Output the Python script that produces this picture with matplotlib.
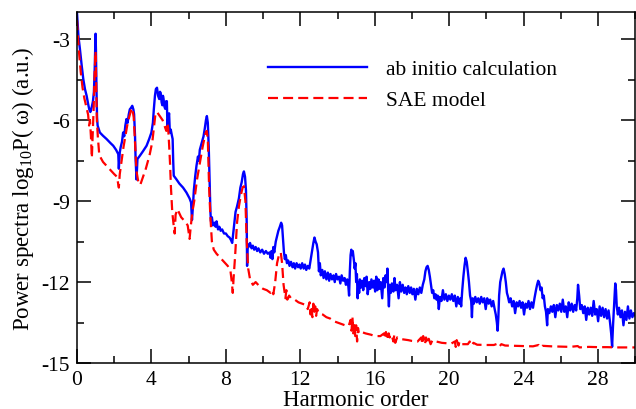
import matplotlib
matplotlib.use("Agg")
import matplotlib.pyplot as plt
from matplotlib.ticker import MultipleLocator

# ab initio spectrum, (harmonic order, log10 P)
ab_initio = [
    (0.0, -2.0), (0.08, -2.9), (0.16, -3.37), (0.25, -3.95), (0.34, -4.48), (0.43, -4.85),
    (0.52, -5.1), (0.6, -5.4), (0.66, -5.6), (0.72, -5.7), (0.8, -5.5), (0.86, -5.3),
    (0.91, -4.96), (0.95, -4.2), (0.98, -3.3), (1.0, -2.8), (1.02, -3.4), (1.05, -4.9),
    (1.08, -5.9), (1.11, -6.2), (1.23, -6.46), (1.4, -6.58), (1.59, -6.7), (1.8, -6.85),
    (1.95, -6.95), (2.1, -7.1), (2.22, -7.26), (2.25, -7.8), (2.3, -7.2), (2.35, -7.0),
    (2.42, -6.8), (2.48, -6.46), (2.54, -6.6), (2.6, -6.2), (2.66, -5.96), (2.72, -6.1),
    (2.78, -5.8), (2.84, -5.6), (2.9, -5.55), (2.97, -5.47), (3.03, -5.6), (3.07, -5.78),
    (3.12, -6.6), (3.15, -7.44), (3.2, -8.2), (3.25, -7.44), (3.38, -7.32), (3.55, -7.15),
    (3.74, -6.95), (3.88, -6.7), (4.0, -6.46), (4.08, -6.1), (4.13, -5.6), (4.19, -5.1),
    (4.24, -4.85), (4.3, -4.8), (4.36, -5.1), (4.42, -5.22), (4.46, -4.95), (4.5, -5.0),
    (4.55, -5.35), (4.59, -5.45), (4.62, -5.1), (4.65, -5.2), (4.7, -5.5), (4.74, -5.58),
    (4.79, -5.3), (4.83, -5.3), (4.86, -6.2), (4.9, -5.95), (4.95, -5.75), (4.99, -6.46),
    (5.04, -6.35), (5.08, -6.5), (5.14, -6.7), (5.17, -7.5), (5.2, -8.06), (5.34, -8.19),
    (5.5, -8.35), (5.7, -8.5), (5.88, -8.68), (6.05, -8.9), (6.13, -9.05), (6.18, -9.7),
    (6.22, -9.3), (6.28, -8.6), (6.35, -8.1), (6.42, -7.7), (6.5, -7.35), (6.55, -7.5),
    (6.6, -7.1), (6.7, -6.85), (6.8, -6.6), (6.87, -6.3), (6.93, -6.0), (6.98, -5.85),
    (7.03, -6.1), (7.08, -7.0), (7.13, -8.3), (7.17, -9.4), (7.2, -9.75), (7.25, -9.6),
    (7.3, -9.9), (7.38, -9.8), (7.45, -9.95), (7.5, -9.75), (7.58, -10.05), (7.65, -9.95),
    (7.72, -10.1), (7.8, -10.05), (7.9, -10.2), (8.0, -10.2), (8.1, -10.3), (8.2, -10.35),
    (8.28, -10.45), (8.34, -10.55), (8.38, -10.3), (8.45, -9.9), (8.52, -9.4), (8.6, -9.2),
    (8.7, -8.9), (8.78, -8.5), (8.85, -8.3), (8.92, -8.0), (8.97, -7.9), (9.03, -8.1),
    (9.08, -8.6), (9.12, -9.8), (9.14, -11.4), (9.17, -10.6), (9.22, -10.7), (9.3, -10.55),
    (9.38, -10.75), (9.45, -10.65), (9.52, -10.8), (9.6, -10.7), (9.68, -10.85), (9.75, -10.75),
    (9.85, -10.9), (9.95, -10.8), (10.05, -10.95), (10.15, -10.85), (10.25, -10.95), (10.35, -10.9),
    (10.4, -11.1), (10.45, -10.85), (10.5, -11.15), (10.55, -10.7), (10.6, -10.9), (10.68, -10.5),
    (10.75, -10.3), (10.82, -10.1), (10.9, -9.95), (10.97, -9.8), (11.02, -9.9), (11.07, -10.4),
    (11.12, -10.9), (11.17, -11.15), (11.22, -11.0), (11.28, -11.3), (11.35, -11.2), (11.42, -11.4),
    (11.5, -11.25), (11.58, -11.45), (11.65, -11.3), (11.72, -11.5), (11.8, -11.3), (11.88, -11.45),
    (11.95, -11.35), (12.02, -11.5), (12.1, -11.3), (12.18, -11.5), (12.25, -11.35), (12.32, -11.55),
    (12.4, -11.4), (12.48, -11.5), (12.55, -11.2), (12.62, -10.9), (12.7, -10.55), (12.76, -10.35),
    (12.82, -10.5), (12.88, -10.6), (12.95, -10.9), (13.0, -11.6), (13.05, -11.3), (13.1, -11.75),
    (13.18, -11.55), (13.25, -11.85), (13.32, -11.6), (13.4, -11.9), (13.48, -11.65), (13.55, -11.95),
    (13.62, -11.7), (13.7, -11.9), (13.78, -11.75), (13.85, -12.0), (13.92, -11.7), (14.0, -11.9),
    (14.08, -11.8), (14.15, -12.05), (14.22, -11.75), (14.3, -11.95), (14.38, -11.85), (14.45, -12.1),
    (14.52, -11.9), (14.58, -12.15), (14.62, -12.5), (14.66, -11.6), (14.7, -11.0), (14.74, -10.8),
    (14.78, -11.0), (14.82, -10.85), (14.88, -11.2), (14.92, -11.5), (14.96, -11.3), (15.0, -12.0),
    (15.04, -11.7), (15.08, -12.6), (15.12, -12.0), (15.16, -12.4), (15.2, -11.9), (15.26, -12.2),
    (15.32, -11.95), (15.38, -12.3), (15.44, -11.85), (15.5, -12.15), (15.56, -11.8), (15.62, -12.45),
    (15.7, -12.0), (15.76, -12.25), (15.82, -11.9), (15.9, -12.2), (15.96, -11.95), (16.02, -12.35),
    (16.08, -11.8), (16.14, -12.3), (16.2, -11.9), (16.26, -12.25), (16.32, -12.0), (16.4, -12.6),
    (16.46, -11.85), (16.52, -12.2), (16.58, -11.75), (16.64, -12.0), (16.68, -11.5), (16.72, -12.3),
    (16.76, -12.9), (16.8, -12.1), (16.86, -12.4), (16.92, -12.05), (17.0, -12.35), (17.06, -11.85),
    (17.12, -12.3), (17.2, -12.1), (17.28, -12.6), (17.35, -12.0), (17.42, -12.35), (17.5, -12.1),
    (17.58, -12.4), (17.65, -12.2), (17.72, -12.45), (17.8, -12.15), (17.88, -12.4), (17.95, -12.2),
    (18.02, -12.45), (18.1, -12.25), (18.18, -12.65), (18.26, -12.25), (18.34, -12.45), (18.42, -12.2),
    (18.5, -12.4), (18.58, -12.1), (18.66, -11.9), (18.72, -11.6), (18.78, -11.45), (18.84, -11.4),
    (18.9, -11.55), (18.96, -11.8), (19.02, -12.1), (19.08, -12.4), (19.14, -12.3), (19.2, -12.6),
    (19.26, -12.45), (19.32, -12.65), (19.38, -12.5), (19.44, -13.0), (19.5, -12.55), (19.58, -12.7),
    (19.66, -12.3), (19.74, -12.65), (19.82, -12.45), (19.9, -12.7), (19.98, -12.5), (20.06, -12.65),
    (20.14, -12.45), (20.22, -12.7), (20.3, -12.5), (20.38, -12.9), (20.46, -12.55), (20.54, -12.8),
    (20.6, -12.6), (20.64, -12.9), (20.7, -12.3), (20.76, -11.8), (20.82, -11.4), (20.88, -11.1),
    (20.94, -11.25), (21.0, -11.6), (21.06, -12.0), (21.12, -12.5), (21.18, -12.7), (21.22, -13.3),
    (21.26, -12.6), (21.32, -12.8), (21.4, -12.55), (21.48, -12.75), (21.56, -12.6), (21.64, -12.8),
    (21.72, -12.55), (21.8, -12.75), (21.88, -12.6), (21.96, -13.0), (22.04, -12.6), (22.12, -12.8),
    (22.2, -12.65), (22.28, -12.9), (22.36, -12.7), (22.44, -13.0), (22.5, -13.2), (22.56, -13.5),
    (22.6, -13.8), (22.64, -13.3), (22.68, -12.5), (22.74, -12.0), (22.8, -11.8), (22.86, -11.6),
    (22.92, -11.5), (22.98, -11.7), (23.04, -12.0), (23.1, -12.4), (23.16, -12.55), (23.22, -12.75),
    (23.3, -12.6), (23.38, -12.9), (23.46, -12.7), (23.54, -13.15), (23.62, -12.75), (23.7, -12.9),
    (23.78, -12.7), (23.86, -12.95), (23.94, -12.75), (24.02, -13.2), (24.1, -12.8), (24.18, -12.95),
    (24.26, -12.7), (24.34, -13.0), (24.42, -12.75), (24.5, -12.95), (24.58, -12.6), (24.66, -12.3),
    (24.72, -12.1), (24.78, -11.95), (24.84, -12.05), (24.9, -12.3), (24.96, -12.2), (25.02, -12.6),
    (25.08, -12.5), (25.14, -12.9), (25.2, -13.1), (25.26, -13.6), (25.3, -13.0), (25.38, -13.15),
    (25.46, -12.9), (25.54, -13.1), (25.62, -12.85), (25.7, -13.3), (25.78, -12.85), (25.86, -13.05),
    (25.94, -12.8), (26.02, -13.1), (26.1, -12.65), (26.18, -13.1), (26.26, -12.9), (26.34, -13.3),
    (26.42, -12.75), (26.5, -13.05), (26.58, -12.8), (26.66, -13.1), (26.74, -12.85), (26.82, -13.05),
    (26.88, -12.6), (26.92, -12.1), (26.98, -12.5), (27.04, -13.0), (27.12, -12.85), (27.2, -13.15),
    (27.28, -12.9), (27.36, -13.4), (27.44, -12.95), (27.52, -13.2), (27.6, -12.95), (27.68, -13.25),
    (27.76, -12.7), (27.84, -13.2), (27.92, -13.0), (28.0, -13.45), (28.08, -12.9), (28.16, -13.25),
    (28.24, -12.95), (28.32, -13.3), (28.4, -13.0), (28.48, -13.35), (28.56, -13.05), (28.64, -13.5),
    (28.7, -13.9), (28.75, -14.4), (28.8, -13.6), (28.86, -12.8), (28.92, -12.05), (28.96, -12.3),
    (29.0, -12.9), (29.06, -13.2), (29.12, -12.95), (29.2, -13.3), (29.28, -13.05), (29.36, -13.6),
    (29.44, -13.1), (29.52, -13.4), (29.6, -12.9), (29.68, -13.35), (29.76, -13.05), (29.84, -13.3),
    (29.92, -13.15), (30.0, -13.25),
]

# single active electron model
sae_model = [
    (0.0, -2.3), (0.05, -2.9), (0.1, -3.4), (0.2, -4.2), (0.3, -4.8), (0.4, -5.2),
    (0.5, -5.5), (0.6, -5.8), (0.65, -6.2), (0.7, -6.0), (0.75, -6.6), (0.8, -7.4),
    (0.85, -6.5), (0.9, -5.5), (0.95, -4.3), (1.0, -3.45), (1.03, -4.5), (1.07, -6.0),
    (1.12, -6.6), (1.2, -7.3), (1.4, -7.55), (1.6, -7.7), (1.8, -7.85), (2.0, -8.0),
    (2.15, -8.1), (2.25, -8.5), (2.3, -8.0), (2.4, -7.5), (2.5, -7.0), (2.6, -6.6),
    (2.7, -6.2), (2.8, -5.9), (2.9, -5.65), (2.97, -5.55), (3.05, -5.9), (3.12, -6.8),
    (3.2, -7.9), (3.3, -8.3), (3.4, -8.4), (3.5, -8.2), (3.7, -7.8), (3.9, -7.3),
    (4.05, -6.8), (4.15, -6.2), (4.22, -5.75), (4.3, -5.7), (4.45, -5.85), (4.6, -6.0),
    (4.7, -6.2), (4.8, -6.4), (4.85, -6.1), (4.9, -6.3), (4.95, -6.9), (5.0, -7.6),
    (5.05, -8.5), (5.12, -9.4), (5.18, -9.8), (5.25, -10.2), (5.3, -9.5), (5.4, -9.3),
    (5.5, -9.45), (5.6, -9.6), (5.8, -9.75), (5.95, -9.9), (6.05, -10.4), (6.12, -9.9),
    (6.2, -9.4), (6.3, -9.0), (6.45, -8.2), (6.6, -7.6), (6.75, -7.0), (6.9, -6.5),
    (6.97, -6.4), (7.03, -6.7), (7.1, -8.5), (7.17, -9.6), (7.25, -10.5), (7.35, -10.8),
    (7.5, -10.95), (7.7, -11.1), (7.9, -11.25), (8.1, -11.4), (8.25, -11.6), (8.32, -12.0),
    (8.37, -12.4), (8.42, -11.8), (8.5, -11.0), (8.6, -9.8), (8.7, -9.2), (8.8, -8.8),
    (8.9, -8.5), (8.97, -8.45), (9.05, -9.0), (9.12, -10.5), (9.2, -11.5), (9.3, -11.9),
    (9.45, -12.1), (9.6, -12.0), (9.8, -12.15), (10.0, -12.25), (10.2, -12.3), (10.4, -12.4),
    (10.5, -12.3), (10.55, -12.45), (10.65, -12.0), (10.75, -11.3), (10.85, -11.0), (10.95, -10.9),
    (11.02, -11.3), (11.1, -12.1), (11.2, -12.6), (11.25, -12.3), (11.3, -12.65), (11.4, -12.5),
    (11.5, -12.6), (11.7, -12.65), (11.9, -12.75), (12.1, -12.8), (12.3, -12.85), (12.4, -13.0),
    (12.5, -12.75), (12.55, -13.2), (12.6, -12.9), (12.65, -13.3), (12.7, -12.8), (12.75, -13.1),
    (12.8, -12.9), (12.85, -13.25), (12.9, -13.0), (13.0, -13.15), (13.2, -13.2), (13.4, -13.3),
    (13.6, -13.35), (13.8, -13.45), (14.0, -13.5), (14.2, -13.55), (14.4, -13.6), (14.6, -13.62),
    (14.7, -13.4), (14.75, -13.8), (14.8, -13.3), (14.85, -13.9), (14.9, -13.5), (14.95, -14.0),
    (15.0, -13.6), (15.05, -14.2), (15.1, -13.7), (15.15, -13.9), (15.3, -13.85), (15.5, -13.9),
    (15.8, -13.95), (16.0, -14.0), (16.3, -14.0), (16.5, -13.9), (16.55, -14.1), (16.6, -13.85),
    (16.7, -14.15), (16.75, -13.9), (16.8, -14.05), (16.9, -13.95), (17.0, -14.2), (17.05, -13.95),
    (17.1, -14.25), (17.2, -14.05), (17.3, -14.1), (17.5, -14.12), (17.8, -14.15), (18.0, -14.18),
    (18.3, -14.2), (18.5, -14.05), (18.55, -14.3), (18.6, -14.0), (18.7, -14.3), (18.75, -14.05),
    (18.85, -14.25), (18.9, -14.1), (19.0, -14.3), (19.1, -14.15), (19.3, -14.2), (19.6, -14.25),
    (19.9, -14.27), (20.1, -14.28), (20.3, -14.2), (20.35, -14.4), (20.4, -14.15), (20.5, -14.35),
    (20.55, -14.2), (20.65, -14.3), (20.8, -14.3), (21.0, -14.3), (21.1, -14.2), (21.2, -14.35),
    (21.3, -14.25), (21.5, -14.32), (22.0, -14.33), (22.4, -14.33), (22.6, -14.28), (22.7, -14.38),
    (22.8, -14.3), (23.0, -14.35), (23.5, -14.36), (24.0, -14.37), (24.5, -14.38), (24.8, -14.33),
    (24.9, -14.42), (25.0, -14.36), (25.5, -14.38), (26.0, -14.39), (26.5, -14.4), (26.9, -14.37),
    (27.0, -14.42), (27.5, -14.4), (28.0, -14.41), (28.5, -14.41), (29.0, -14.42), (29.5, -14.42),
    (30.0, -14.42),
]

x_ticks = [0, 4, 8, 12, 16, 20, 24, 28]
y_ticks = [-15, -12, -9, -6, -3]

plt.rcParams['font.family'] = ['Liberation Serif', 'DejaVu Serif']
plt.rcParams['mathtext.fontset'] = 'custom'
plt.rcParams['mathtext.rm'] = 'Liberation Serif'
plt.rcParams['axes.unicode_minus'] = False

fig = plt.figure(figsize=(6.36, 4.10), dpi=100)
ax = fig.add_axes([0.121, 0.112, 0.878, 0.856])

bx, by = zip(*ab_initio)
rx, ry = zip(*sae_model)
ax.plot(bx, by, color='#0000ff', lw=1.7, label='ab initio calculation')
ax.plot(rx, ry, color='#ff0000', lw=1.6, dashes=(4.5, 2.3), label='SAE model')

ax.set_xlim(0, 30)
ax.set_ylim(-15, -2)
ax.set_xticks(x_ticks)
ax.set_yticks(y_ticks)
ax.xaxis.set_minor_locator(MultipleLocator(2))
ax.yaxis.set_minor_locator(MultipleLocator(1.5))
ax.tick_params(which='both', direction='in', top=True, right=True, width=1.1, labelsize=15.5)
ax.tick_params(which='major', length=10, pad=5)
ax.tick_params(which='minor', length=5)
for s in ax.spines.values():
    s.set_linewidth(1.1)

ax.set_xlabel('Harmonic order', fontsize=16.5, labelpad=0)
ax.set_ylabel(r'Power spectra log$_{\mathrm{10}}$P( ω) (a.u.)', fontsize=16.5, labelpad=4)

ax.legend(loc='upper left', bbox_to_anchor=(0.342, 0.866), frameon=False, borderpad=0,
          borderaxespad=0, handlelength=4.6, handletextpad=0.9, labelspacing=0.5,
          fontsize=15.5)

fig.savefig('out.png', dpi=100)
